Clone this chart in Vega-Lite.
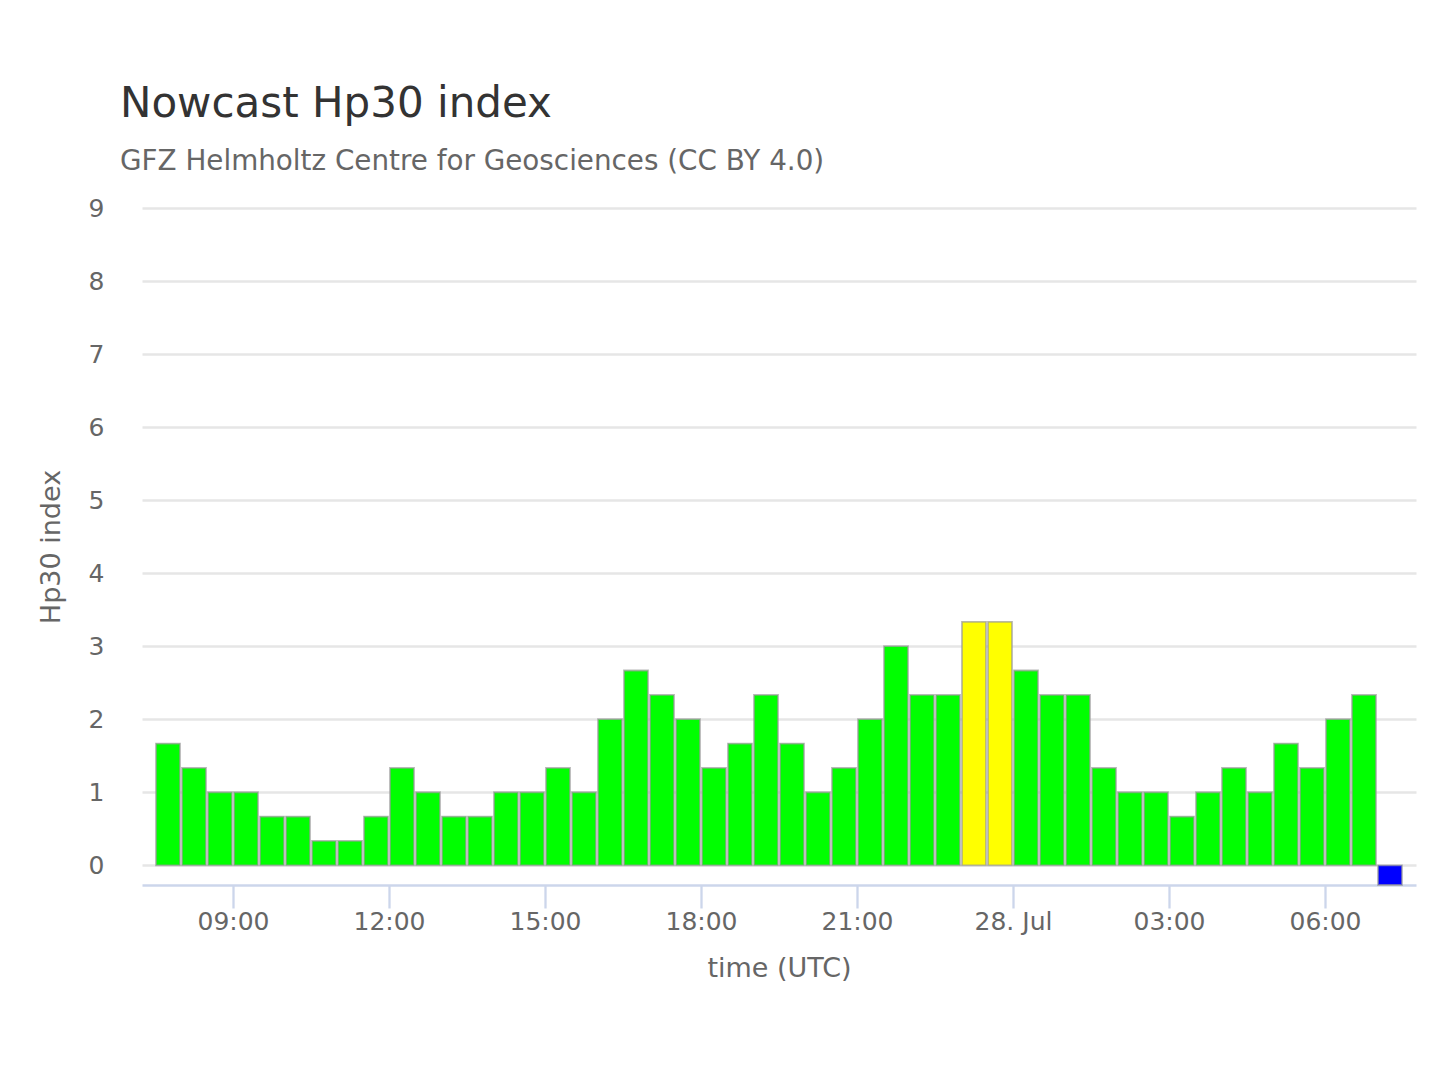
{
  "$schema": "https://vega.github.io/schema/vega-lite/v6.json",
  "width": 1274,
  "height": 677,
  "autosize": {"type": "none"},
  "padding": {"left": 142, "top": 208, "right": 24, "bottom": 195},
  "background": "#ffffff",
  "title": {
    "text": "Nowcast Hp30 index",
    "subtitle": "GFZ Helmholtz Centre for Geosciences (CC BY 4.0)",
    "anchor": "start",
    "frame": "group",
    "dx": -22,
    "offset": 19,
    "font": "DejaVu Sans",
    "fontSize": 42,
    "fontWeight": "normal",
    "color": "#333333",
    "subtitleFont": "DejaVu Sans",
    "subtitleFontSize": 27.8,
    "subtitleColor": "#666666",
    "subtitlePadding": 22
  },
  "data": {
    "values": [
      {"start": "2024-07-27T07:30:00Z", "end": "2024-07-27T08:00:00Z", "hp30": 1.667, "activity": "quiet"},
      {"start": "2024-07-27T08:00:00Z", "end": "2024-07-27T08:30:00Z", "hp30": 1.333, "activity": "quiet"},
      {"start": "2024-07-27T08:30:00Z", "end": "2024-07-27T09:00:00Z", "hp30": 1.0, "activity": "quiet"},
      {"start": "2024-07-27T09:00:00Z", "end": "2024-07-27T09:30:00Z", "hp30": 1.0, "activity": "quiet"},
      {"start": "2024-07-27T09:30:00Z", "end": "2024-07-27T10:00:00Z", "hp30": 0.667, "activity": "quiet"},
      {"start": "2024-07-27T10:00:00Z", "end": "2024-07-27T10:30:00Z", "hp30": 0.667, "activity": "quiet"},
      {"start": "2024-07-27T10:30:00Z", "end": "2024-07-27T11:00:00Z", "hp30": 0.333, "activity": "quiet"},
      {"start": "2024-07-27T11:00:00Z", "end": "2024-07-27T11:30:00Z", "hp30": 0.333, "activity": "quiet"},
      {"start": "2024-07-27T11:30:00Z", "end": "2024-07-27T12:00:00Z", "hp30": 0.667, "activity": "quiet"},
      {"start": "2024-07-27T12:00:00Z", "end": "2024-07-27T12:30:00Z", "hp30": 1.333, "activity": "quiet"},
      {"start": "2024-07-27T12:30:00Z", "end": "2024-07-27T13:00:00Z", "hp30": 1.0, "activity": "quiet"},
      {"start": "2024-07-27T13:00:00Z", "end": "2024-07-27T13:30:00Z", "hp30": 0.667, "activity": "quiet"},
      {"start": "2024-07-27T13:30:00Z", "end": "2024-07-27T14:00:00Z", "hp30": 0.667, "activity": "quiet"},
      {"start": "2024-07-27T14:00:00Z", "end": "2024-07-27T14:30:00Z", "hp30": 1.0, "activity": "quiet"},
      {"start": "2024-07-27T14:30:00Z", "end": "2024-07-27T15:00:00Z", "hp30": 1.0, "activity": "quiet"},
      {"start": "2024-07-27T15:00:00Z", "end": "2024-07-27T15:30:00Z", "hp30": 1.333, "activity": "quiet"},
      {"start": "2024-07-27T15:30:00Z", "end": "2024-07-27T16:00:00Z", "hp30": 1.0, "activity": "quiet"},
      {"start": "2024-07-27T16:00:00Z", "end": "2024-07-27T16:30:00Z", "hp30": 2.0, "activity": "quiet"},
      {"start": "2024-07-27T16:30:00Z", "end": "2024-07-27T17:00:00Z", "hp30": 2.667, "activity": "quiet"},
      {"start": "2024-07-27T17:00:00Z", "end": "2024-07-27T17:30:00Z", "hp30": 2.333, "activity": "quiet"},
      {"start": "2024-07-27T17:30:00Z", "end": "2024-07-27T18:00:00Z", "hp30": 2.0, "activity": "quiet"},
      {"start": "2024-07-27T18:00:00Z", "end": "2024-07-27T18:30:00Z", "hp30": 1.333, "activity": "quiet"},
      {"start": "2024-07-27T18:30:00Z", "end": "2024-07-27T19:00:00Z", "hp30": 1.667, "activity": "quiet"},
      {"start": "2024-07-27T19:00:00Z", "end": "2024-07-27T19:30:00Z", "hp30": 2.333, "activity": "quiet"},
      {"start": "2024-07-27T19:30:00Z", "end": "2024-07-27T20:00:00Z", "hp30": 1.667, "activity": "quiet"},
      {"start": "2024-07-27T20:00:00Z", "end": "2024-07-27T20:30:00Z", "hp30": 1.0, "activity": "quiet"},
      {"start": "2024-07-27T20:30:00Z", "end": "2024-07-27T21:00:00Z", "hp30": 1.333, "activity": "quiet"},
      {"start": "2024-07-27T21:00:00Z", "end": "2024-07-27T21:30:00Z", "hp30": 2.0, "activity": "quiet"},
      {"start": "2024-07-27T21:30:00Z", "end": "2024-07-27T22:00:00Z", "hp30": 3.0, "activity": "quiet"},
      {"start": "2024-07-27T22:00:00Z", "end": "2024-07-27T22:30:00Z", "hp30": 2.333, "activity": "quiet"},
      {"start": "2024-07-27T22:30:00Z", "end": "2024-07-27T23:00:00Z", "hp30": 2.333, "activity": "quiet"},
      {"start": "2024-07-27T23:00:00Z", "end": "2024-07-27T23:30:00Z", "hp30": 3.333, "activity": "active"},
      {"start": "2024-07-27T23:30:00Z", "end": "2024-07-28T00:00:00Z", "hp30": 3.333, "activity": "active"},
      {"start": "2024-07-28T00:00:00Z", "end": "2024-07-28T00:30:00Z", "hp30": 2.667, "activity": "quiet"},
      {"start": "2024-07-28T00:30:00Z", "end": "2024-07-28T01:00:00Z", "hp30": 2.333, "activity": "quiet"},
      {"start": "2024-07-28T01:00:00Z", "end": "2024-07-28T01:30:00Z", "hp30": 2.333, "activity": "quiet"},
      {"start": "2024-07-28T01:30:00Z", "end": "2024-07-28T02:00:00Z", "hp30": 1.333, "activity": "quiet"},
      {"start": "2024-07-28T02:00:00Z", "end": "2024-07-28T02:30:00Z", "hp30": 1.0, "activity": "quiet"},
      {"start": "2024-07-28T02:30:00Z", "end": "2024-07-28T03:00:00Z", "hp30": 1.0, "activity": "quiet"},
      {"start": "2024-07-28T03:00:00Z", "end": "2024-07-28T03:30:00Z", "hp30": 0.667, "activity": "quiet"},
      {"start": "2024-07-28T03:30:00Z", "end": "2024-07-28T04:00:00Z", "hp30": 1.0, "activity": "quiet"},
      {"start": "2024-07-28T04:00:00Z", "end": "2024-07-28T04:30:00Z", "hp30": 1.333, "activity": "quiet"},
      {"start": "2024-07-28T04:30:00Z", "end": "2024-07-28T05:00:00Z", "hp30": 1.0, "activity": "quiet"},
      {"start": "2024-07-28T05:00:00Z", "end": "2024-07-28T05:30:00Z", "hp30": 1.667, "activity": "quiet"},
      {"start": "2024-07-28T05:30:00Z", "end": "2024-07-28T06:00:00Z", "hp30": 1.333, "activity": "quiet"},
      {"start": "2024-07-28T06:00:00Z", "end": "2024-07-28T06:30:00Z", "hp30": 2.0, "activity": "quiet"},
      {"start": "2024-07-28T06:30:00Z", "end": "2024-07-28T07:00:00Z", "hp30": 2.333, "activity": "quiet"},
      {"start": "2024-07-28T07:00:00Z", "end": "2024-07-28T07:30:00Z", "hp30": -0.27, "activity": "pending"}
    ]
  },
  "mark": {
    "type": "bar",
    "xOffset": 1,
    "x2Offset": -1,
    "stroke": "#9a9a9a",
    "strokeOpacity": 0.7,
    "strokeWidth": 1.8
  },
  "encoding": {
    "x": {
      "field": "start",
      "type": "temporal",
      "scale": {
        "type": "utc",
        "domain": [
          {"year": 2024, "month": 7, "date": 27, "hours": 7, "minutes": 15, "utc": true},
          {"year": 2024, "month": 7, "date": 28, "hours": 7, "minutes": 45, "utc": true}
        ],
        "nice": false
      },
      "axis": {
        "title": "time (UTC)",
        "values": [
          {"year": 2024, "month": 7, "date": 27, "hours": 9, "utc": true},
          {"year": 2024, "month": 7, "date": 27, "hours": 12, "utc": true},
          {"year": 2024, "month": 7, "date": 27, "hours": 15, "utc": true},
          {"year": 2024, "month": 7, "date": 27, "hours": 18, "utc": true},
          {"year": 2024, "month": 7, "date": 27, "hours": 21, "utc": true},
          {"year": 2024, "month": 7, "date": 28, "hours": 0, "utc": true},
          {"year": 2024, "month": 7, "date": 28, "hours": 3, "utc": true},
          {"year": 2024, "month": 7, "date": 28, "hours": 6, "utc": true}
        ],
        "labelExpr": "utchours(datum.value) == 0 ? utcFormat(datum.value, '%d. %b') : utcFormat(datum.value, '%H:%M')",
        "grid": false,
        "domainColor": "#ccd6eb",
        "domainWidth": 2.3,
        "tickColor": "#ccd6eb",
        "tickWidth": 2.3,
        "tickSize": 23,
        "labelPadding": 1,
        "labelFontSize": 25,
        "titleFontSize": 27,
        "titlePadding": 21
      }
    },
    "x2": {"field": "end"},
    "y": {
      "field": "hp30",
      "type": "quantitative",
      "scale": {"domain": [-0.27, 9], "nice": false, "zero": false},
      "axis": {
        "title": "Hp30 index",
        "values": [0, 1, 2, 3, 4, 5, 6, 7, 8, 9],
        "domain": false,
        "ticks": false,
        "gridColor": "#e6e6e6",
        "gridWidth": 2.3,
        "labelPadding": 38,
        "labelFontSize": 25,
        "titleFontSize": 27,
        "titlePadding": 23
      }
    },
    "y2": {"datum": 0},
    "color": {
      "field": "activity",
      "type": "nominal",
      "scale": {"domain": ["quiet", "active", "pending"], "range": ["#00ff00", "#ffff00", "#0000ff"]},
      "legend": null
    }
  },
  "config": {
    "view": {"stroke": null},
    "font": "DejaVu Sans",
    "axis": {
      "labelFont": "DejaVu Sans",
      "titleFont": "DejaVu Sans",
      "labelColor": "#666666",
      "titleColor": "#666666",
      "titleFontWeight": "normal"
    }
  }
}
